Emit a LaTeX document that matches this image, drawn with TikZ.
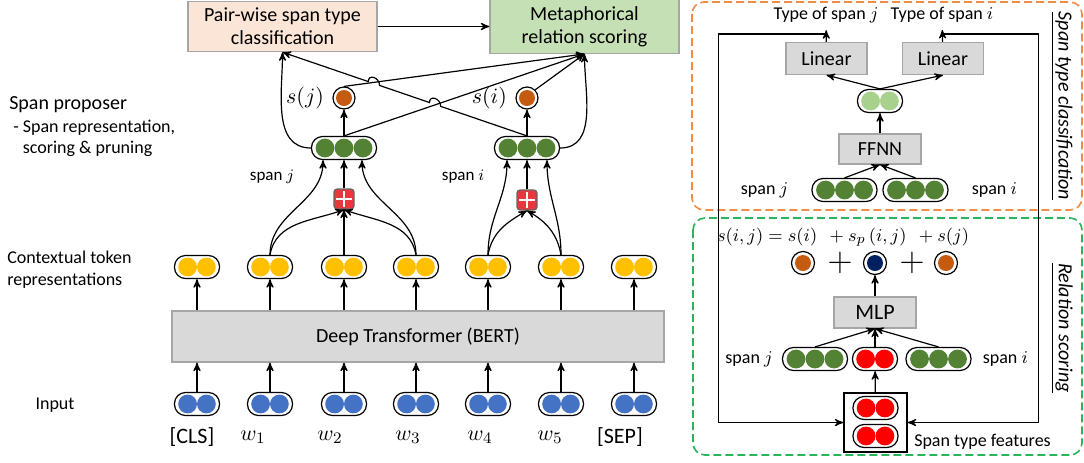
\documentclass[tikz,border=0pt]{standalone}
\usepackage{amsmath}
\usepackage{fontspec}
\setmainfont{Carlito}
\usepackage{tikz}
\usetikzlibrary{arrows, shapes, positioning, calc}

\definecolor{tokblue}{HTML}{4472C4}
\definecolor{tokyellow}{HTML}{FFC000}
\definecolor{spangreen}{HTML}{548235}
\definecolor{lightgreen}{HTML}{A9D18E}
\definecolor{featred}{HTML}{FF0000}
\definecolor{scoreorange}{HTML}{C55A11}
\definecolor{scorenavy}{HTML}{002060}
\definecolor{boxgray}{HTML}{D9D9D9}
\definecolor{peach}{HTML}{FBE5D6}
\definecolor{mint}{HTML}{C5E0B4}
\definecolor{addred}{HTML}{E8383D}
\definecolor{dashorange}{RGB}{240,140,70}
\definecolor{dashgreen}{RGB}{40,180,90}

\tikzset{
  twovec/.style={draw, fill=white, rounded corners=5.5pt, minimum width=22.5pt,
    minimum height=11.5pt, inner sep=0pt,
    path picture={\foreach \cx in {-4.7,4.7}
      \fill[#1] ([xshift=\cx pt]path picture bounding box.center) circle (4.7pt);}},
  threevec/.style={draw, fill=white, rounded corners=5.5pt, minimum width=32.5pt,
    minimum height=11.5pt, inner sep=0pt,
    path picture={\foreach \cx in {-9.5,0,9.5}
      \fill[#1] ([xshift=\cx pt]path picture bounding box.center) circle (4.7pt);}},
  score/.style={circle, draw, fill=white, minimum size=11pt, inner sep=0pt,
    path picture={\fill[#1] (path picture bounding box.center) circle (4pt);}},
  graybox/.style={draw=black!35, fill=boxgray, minimum width=40.5pt,
    minimum height=16pt, font=\fontsize{10}{12}\selectfont},
  topbox/.style={draw=black!35, minimum width=94.5pt, minimum height=23.5pt,
    align=center, font=\fontsize{10}{11.5}\selectfont},
  addbox/.style={draw=black!60, fill=addred, rounded corners=1.5pt,
    minimum size=10pt, inner sep=0pt,
    path picture={\draw[white, line width=0.7pt]
      ([xshift=-4pt]path picture bounding box.center) -- ([xshift=4pt]path picture bounding box.center)
      ([yshift=-4pt]path picture bounding box.center) -- ([yshift=4pt]path picture bounding box.center);}},
  lbl/.style={font=\fontsize{9}{11}\selectfont},
  bigplus/.style={inner sep=0pt, font=\fontsize{18}{18}\selectfont},
  vlabel/.style={rotate=-90, font=\fontsize{10}{12}\selectfont\itshape},
  frame/.style={dash pattern=on 4pt off 2pt, rounded corners=6pt, line width=0.8pt}
}

\begin{document}
\begin{tikzpicture}[x=0.5pt,y=-0.5pt,>=stealth',line width=0.6pt]
\useasboundingbox (0,0) rectangle (1084,462);

% dashed panels
\draw[frame, dashorange] (692,2) rectangle (1082,210);
\draw[frame, dashgreen] (693,218) rectangle (1082,455);

% top boxes
\node[topbox, fill=peach] (pairbox) at (282.5,26.5) {Pair-wise span type\\classification};
\node[topbox, fill=mint] (metabox) at (584.5,26.5) {Metaphorical\\relation scoring};
\draw[->] (pairbox) -- (metabox);

% left labels
\node[anchor=west, font=\fontsize{10}{12}\selectfont] (propLab) at (2,105) {Span proposer};
\node[anchor=west, align=left, font=\fontsize{9}{10.5}\selectfont] (propSub) at (6,138)
  {- Span representation,\\\phantom{- }scoring \& pruning};
\node[anchor=west, align=left, font=\fontsize{9}{11}\selectfont] (ctxLab) at (0,270)
  {Contextual token\\representations};
\node[lbl] (inpLab) at (55,405) {Input};

% encoder
\node[draw=black!35, fill=boxgray, minimum width=246pt, minimum height=25.5pt,
  font=\fontsize{10}{12}\selectfont] (bert) at (418,336.5) {Deep Transformer (BERT)};
\foreach \k/\x in {0/197,1/270,2/344,3/416,4/488,5/561,6/634} {
  \node[twovec=tokblue] (inp\k) at (\x,404) {};
  \node[twovec=tokyellow] (ctx\k) at (\x,267) {};
  \draw[->] (inp\k) -- (inp\k |- bert.south);
  \draw[->] (ctx\k |- bert.north) -- (ctx\k);
}
\foreach \x/\t [count=\k from 0] in {192/{[CLS]},253/{$w_1$},330/{$w_2$},408/{$w_3$},480/{$w_4$},550/{$w_5$},620/{[SEP]}}
  \node[font=\fontsize{11}{13}\selectfont] (word\k) at (\x,437) {\t};

% span proposer
\node[threevec=spangreen] (spanJ) at (344,148) {};
\node[threevec=spangreen] (spanI) at (527,148) {};
\node[score=scoreorange] (scJ) at (344,98) {};
\node[score=scoreorange] (scI) at (527,98) {};
\node[left=3pt of scJ, inner sep=1pt, font=\fontsize{11}{13}\selectfont] (scJlab) {$s(j)$};
\node[left=3pt of scI, inner sep=1pt, font=\fontsize{11}{13}\selectfont] (scIlab) {$s(i)$};
\node[addbox] (addJ) at (344,199) {};
\node[addbox] (addI) at (527,200) {};
\node[font=\fontsize{8.5}{10}\selectfont] (spJlab) at (272,177) {span $j$};
\node[font=\fontsize{8.5}{10}\selectfont] (spIlab) at (463,177) {span $i$};

\draw[->] (ctx1.north) to[out=90,in=-90] ($(spanJ.south)+(-21,0)$);
\draw[->] (ctx1.north) to[out=80,in=-160] (addJ.south);
\draw[->] (ctx2.north) -- (addJ.south);
\draw[->] (ctx3.north) to[out=100,in=-20] (addJ.south);
\draw[->] (ctx3.north) to[out=90,in=-90] ($(spanJ.south)+(18,0)$);
\draw[->] (addJ) -- (spanJ);

\draw[->] (ctx4.north) to[out=90,in=-90] ($(spanI.south)+(-20,0)$);
\draw[->] (ctx4.north) to[out=80,in=-150] (addI.south);
\draw[->] (ctx5.north) to[out=100,in=-30] (addI.south);
\draw[->] (ctx5.north) to[out=90,in=-90] ($(spanI.south)+(20,0)$);
\draw[->] (addI) -- (spanI);

\draw[->] (spanJ) -- (scJ);
\draw[->] (spanI) -- (scI);
\draw[->] (spanJ.west) to[out=180,in=-90] (pairbox.south);
\draw[->] (spanI.east) to[out=0,in=-90] (metabox.south);
\draw[->] (scJ.north) -- (metabox.south);
\draw[->] (spanJ.north) -- (metabox.south);
\draw[->] (scI.north east) -- (metabox.south);
\draw[->] (spanI.north) -- ($(spanI.north)!0.353!(pairbox.south)$)
  .. controls +(0,-8) and +(0,-8) .. ($(spanI.north)!0.399!(pairbox.south)$)
  -- ($(spanI.north)!0.603!(pairbox.south)$)
  .. controls +(0,-8) and +(0,-8) .. ($(spanI.north)!0.649!(pairbox.south)$)
  -- (pairbox.south);

% span type classification
\node[lbl] (typeJ) at (826,15) {Type of span $j$};
\node[lbl] (typeI) at (942,15) {Type of span $i$};
\node[graybox] (linJ) at (826.5,58.5) {Linear};
\node[graybox] (linI) at (943,58.5) {Linear};
\draw[->] (linJ) -- (typeJ);
\draw[->] (linI) -- (typeI);
\node[twovec=lightgreen] (hid) at (880,101) {};
\draw[->] (hid.north) -- (linJ.south);
\draw[->] (hid.north) -- (linI.south);
\node[graybox, minimum width=41pt, minimum height=15pt] (ffnn) at (880,149) {FFNN};
\draw[->] (ffnn) -- (hid);
\node[threevec=spangreen] (ffJ) at (844.5,190) {};
\node[threevec=spangreen] (ffI) at (915.5,190) {};
\draw[->] (ffJ.north) -- (ffnn.south);
\draw[->] (ffI.north) -- (ffnn.south);
\node[lbl, left=8pt of ffJ] (ffJlab) {span $j$};
\node[lbl, right=8pt of ffI] (ffIlab) {span $i$};
\node[vlabel] (stcLab) at (1062,106) {\underline{Span type classification}};

% relation scoring
\node[font=\fontsize{9.5}{11}\selectfont] (formula) at (843,237) {$s(i,j) = s(i)\;\, + s_p\,(i,j)\;\, + s(j)$};
\node[score=scoreorange, minimum size=11.5pt] (sumI) at (803,263) {};
\node[bigplus] (plusA) at (840,263) {$+$};
\node[score=scorenavy, minimum size=11.5pt] (sumP) at (875,263) {};
\node[bigplus] (plusB) at (912,263) {$+$};
\node[score=scoreorange, minimum size=11.5pt] (sumJ) at (946,263) {};
\node[graybox, minimum width=41pt, minimum height=15.5pt, font=\fontsize{11}{13}\selectfont] (mlp) at (875,312.5) {MLP};
\draw[->] (mlp) -- (sumP);
\node[threevec=spangreen] (rsJ) at (815,359) {};
\node[twovec=featred] (rsF) at (875,359) {};
\node[threevec=spangreen] (rsI) at (938.5,359) {};
\node[lbl, left=1pt of rsJ] (rsJlab) {span $j$};
\node[lbl, right=2pt of rsI] (rsIlab) {span $i$};
\draw[->] (rsJ.north) -- (mlp.south);
\draw[->] (rsF) -- (mlp);
\draw[->] (rsI.north) -- (mlp.south);
\node[draw, minimum width=31.5pt, minimum height=29.5pt] (feat) at (875.5,422.5) {};
\node[twovec=featred] (featA) at (875.5,408) {};
\node[twovec=featred] (featB) at (875.5,436) {};
\draw[->] (feat) -- (rsF);
\node[lbl, anchor=west] (featLab) at (907,442) {Span type features};
\node[vlabel] (rsLab) at (1062,328) {\underline{Relation scoring}};

% predicted types fed back
\draw[->] ($(linJ.north)+(0,-8)$) -| ($(feat.west)+(-125,0)$) -- (feat.west);
\draw[->] ($(linI.north)+(0,-8)$) -| ($(feat.east)+(131,0)$) -- (feat.east);
\end{tikzpicture}
\end{document}
